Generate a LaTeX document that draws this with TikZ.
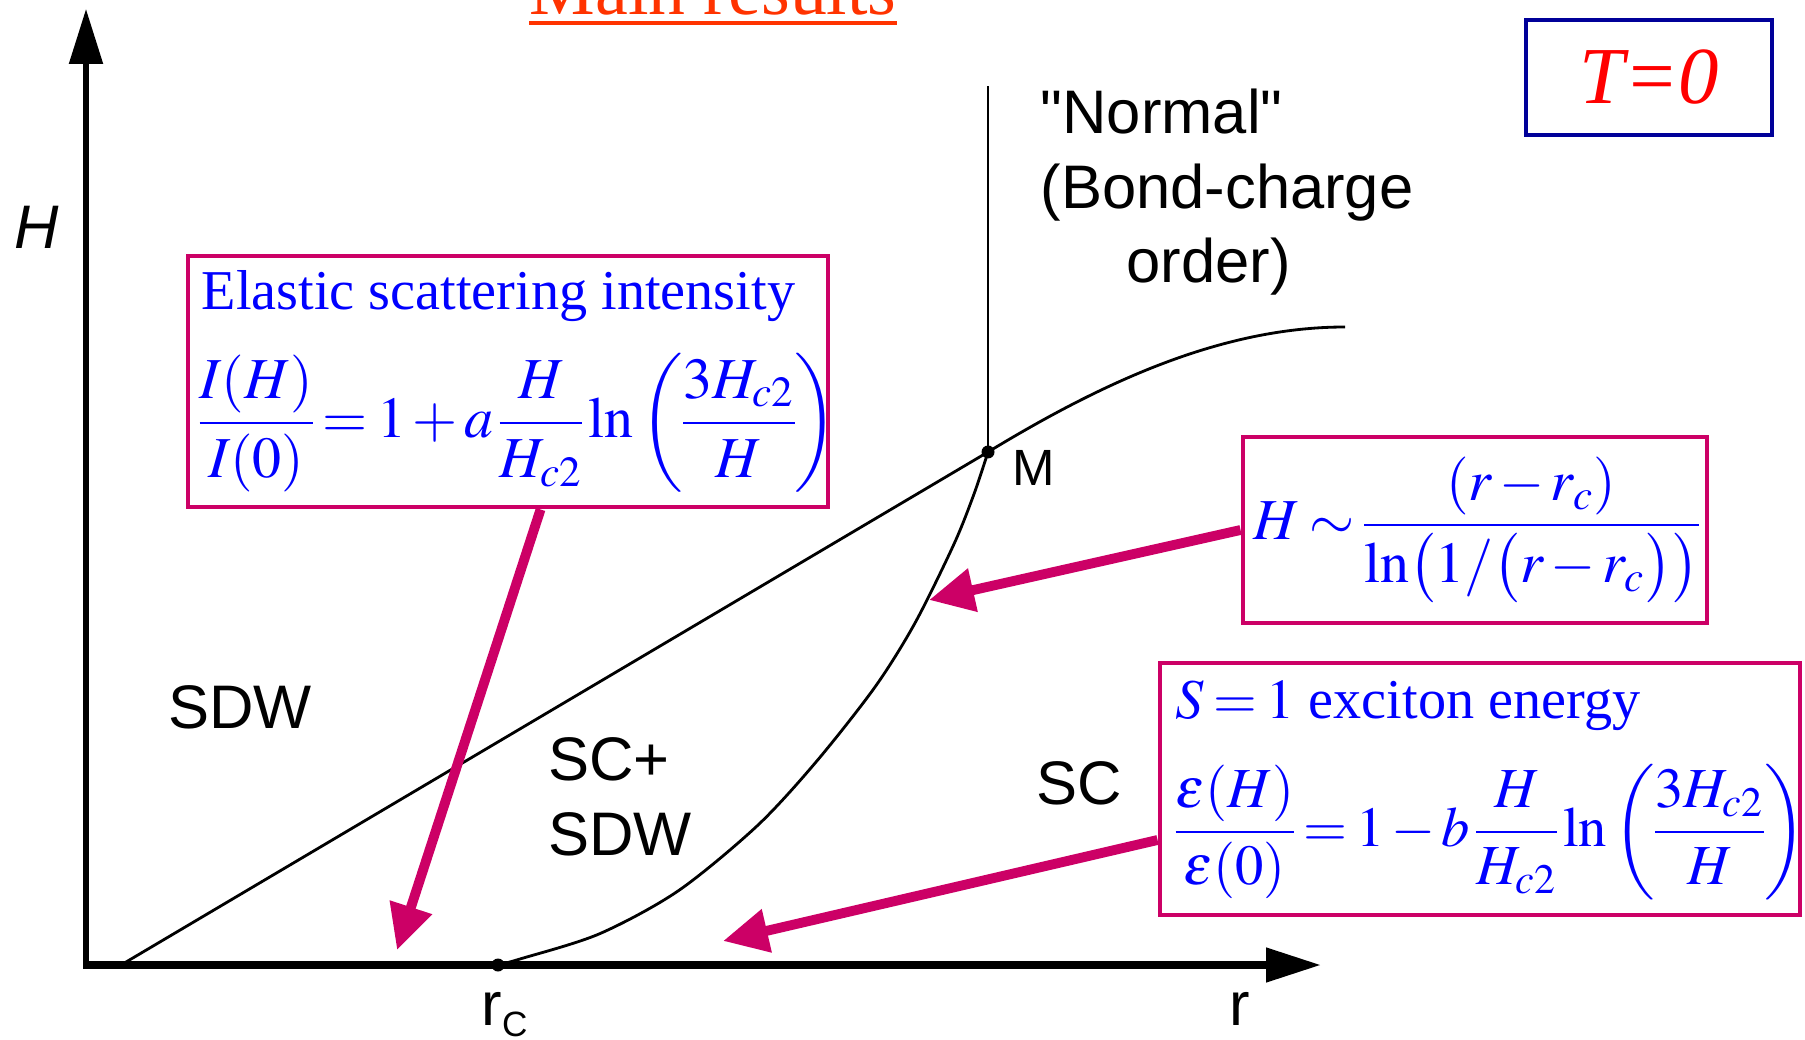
\documentclass[tikz,border=0pt]{standalone}
\usepackage{mathptmx}
\usepackage[no-math]{fontspec}
\setmainfont{Liberation Serif}
\setsansfont{Liberation Sans}
\usetikzlibrary{arrows.meta,calc}
\definecolor{boxred}{HTML}{CC0066}
\definecolor{navyblue}{HTML}{000099}
\definecolor{titlered}{HTML}{FF3300}

\begin{document}
\medmuskip=2mu
\thickmuskip=3mu plus 2mu
\nulldelimiterspace=0pt
\begin{tikzpicture}[
  axis/.style={-{Triangle[length=0.55cm,width=0.33cm]}},
  bound/.style={line width=0.8pt},
  phase/.style={font=\sffamily\fontsize{17.5}{21.3}\selectfont, inner sep=0pt},
  infobox/.style={draw=boxred, line width=1.4pt, inner sep=0pt},
  mathtxt/.style={text=blue, font=\fontsize{16.5}{20}\selectfont, inner sep=0pt},
  boxtxt/.style={text=blue, font=\fontsize{16}{19}\selectfont, inner sep=0pt},
  pointer/.style={draw=boxred, line width=2.8pt, -{Triangle[length=0.45cm,width=0.42cm]}},
  dot/.style={circle, fill=black, inner sep=0pt, minimum size=0.13cm},
  ]
\useasboundingbox (0,0) rectangle (18.05,10.39);

% ---- Title (cut off at the top edge) ---------------------------------------
\node[anchor=base west, inner sep=0pt, text=titlered,
      font=\fontsize{21}{25}\selectfont] (title) at (5.29,10.24) {Main results};
\draw[titlered, line width=1.2pt] ($(title.base west)+(0,-0.08)$)
  -- ($(title.base east)+(0,-0.08)$);

% ---- Axes ------------------------------------------------------------------
\coordinate (O) at (0.86,0.74);
\coordinate (ytip) at (0.86,10.30);
\coordinate (xtip) at (13.21,0.74);
\draw[axis, line width=1.5pt] ([yshift=-1.1pt]O) -- (ytip);
\draw[axis, line width=2.2pt] ([xshift=-0.75pt]O) -- (xtip);
\node[phase, font=\sffamily\itshape\fontsize{17.5}{21}\selectfont] (Hlab) at (0.37,8.12) {H};
\node[phase, anchor=base] (rlab) at (12.40,0.14) {r};
\node[phase, anchor=base west] (rclab) at (4.81,0.14)
  {r\raisebox{-0.11cm}{\fontsize{10}{10}\selectfont C}};

% ---- Phase boundaries ------------------------------------------------------
\coordinate (s0) at (1.21,0.74);
\coordinate (M) at (9.88,5.87);
\coordinate (Mtop) at (9.88,9.53);
\coordinate (bcend) at (13.45,7.12);
\coordinate (rc) at (4.98,0.74);
\draw[bound] (s0) -- (M) .. controls (11.0,6.55) and (12.2,7.12) .. (bcend);
\draw[bound] (M) -- (Mtop);
\draw[bound] plot[smooth] coordinates {(rc) (5.20,0.80) (5.99,1.05) (6.78,1.48)
  (7.57,2.13) (8.16,2.77) (8.75,3.52) (9.15,4.16) (9.54,4.95) (9.74,5.45) (M)};
\node[dot] (Mdot) at (M) {};
\node[dot] (rcdot) at (rc) {};

% ---- Phase labels ----------------------------------------------------------
\node[phase] (sdw) at (2.40,3.32) {SDW};
\node[phase, align=left] (mixed) at (6.20,2.42) {SC+\\SDW};
\node[phase] (sc) at (10.79,2.56) {SC};
\node[phase, font=\sffamily\fontsize{14.5}{17}\selectfont] (Mlab) at (10.34,5.71) {M};
\node[phase, anchor=north west, align=left] (normal) at (10.40,9.51)
  {\textquotedbl Normal\textquotedbl\\(Bond-charge\\\hspace*{0.86cm}order)};

% ---- T = 0 box -------------------------------------------------------------
\node[draw=navyblue, line width=1.4pt, minimum width=2.46cm, minimum height=1.15cm,
      text=red, font=\itshape\fontsize{23}{27}\selectfont] (tbox) at (16.49,9.615) {T=0};

% ---- Elastic scattering box ------------------------------------------------
\node[infobox, minimum width=6.40cm, minimum height=2.51cm] (elasticbox) at (5.08,6.575) {};
\node[boxtxt, anchor=base west] (elastictxt) at (2.01,7.29) {Elastic scattering intensity};
\node[mathtxt, anchor=west] (elasticeq) at (1.99,6.16)
  {$\displaystyle \frac{I(H)}{I(0)}=1+a\,\frac{H}{H_{c2}}\ln\left(\frac{3H_{c2}}{H}\right)$};

% ---- Crossover line box ----------------------------------------------------
\node[infobox, minimum width=4.64cm, minimum height=1.86cm] (gapbox) at (14.75,5.09) {};
\node[mathtxt, anchor=west] (gapeq) at (12.53,5.09)
  {$\displaystyle H\sim\frac{(r-r_c)}{\ln\bigl(1/\bigl(r-r_c\bigr)\bigr)}$};

% ---- Exciton box -----------------------------------------------------------
\node[infobox, minimum width=6.40cm, minimum height=2.52cm] (excitonbox) at (14.80,2.50) {};
\node[boxtxt, anchor=base west] (excitontxt) at (11.75,3.21) {$S=1$ exciton energy};
\node[mathtxt, anchor=west, font=\fontsize{16.1}{20}\selectfont] (excitoneq) at (11.75,2.07)
  {$\displaystyle \frac{\varepsilon(H)}{\varepsilon(0)}=1-b\,\frac{H}{H_{c2}}\ln\left(\frac{3H_{c2}}{H}\right)$};

% ---- Pointers --------------------------------------------------------------
\coordinate (elastictip) at (3.97,0.89);
\coordinate (gaptip) at (9.29,4.39);
\coordinate (excitontip) at (7.23,0.98);
\draw[pointer] ($(elasticbox.south west)+(3.55,0)$) -- (elastictip);
\draw[pointer] (gapbox.west) -- (gaptip);
\draw[pointer] ($(excitonbox.west)+(0,-0.51)$) -- (excitontip);

\end{tikzpicture}
\end{document}
